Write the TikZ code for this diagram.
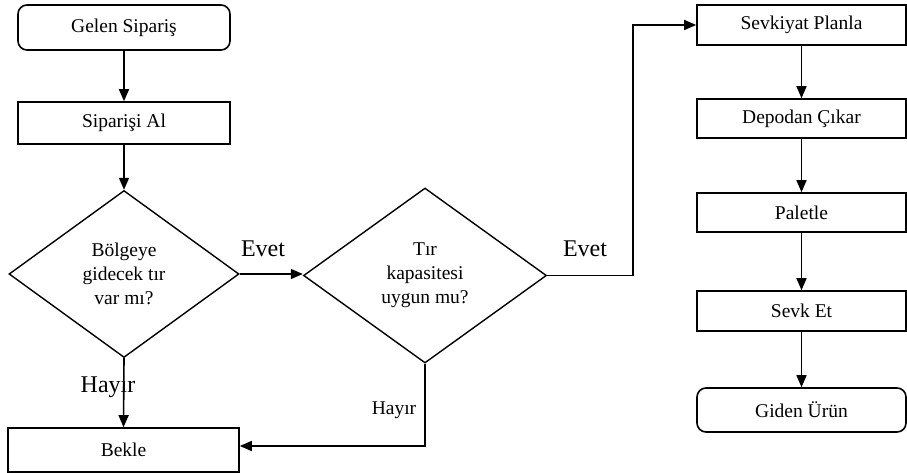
\documentclass[tikz,border=0pt]{standalone}
\usepackage{fontspec}
\setmainfont{Liberation Serif}
\usetikzlibrary{arrows.meta,shapes.geometric}
\newcommand{\fsmain}{\fontsize{19.5}{24}\selectfont}
\newcommand{\fsbig}{\fontsize{24}{28}\selectfont}
\begin{document}
\begin{tikzpicture}[x=1pt,y=-1pt,line width=1.6pt,
  >={Triangle[length=12pt,width=10pt]},
  box/.style={draw,rectangle,minimum width=212pt,minimum height=42pt,inner sep=0pt,font=\fsmain},
  rbox/.style={box,minimum width=209pt,minimum height=40pt},
  term/.style={box,rounded corners=9pt},
  dec/.style={draw,diamond,inner sep=0pt,align=center,font=\fsmain,line width=1.4pt},
  lbl/.style={inner sep=0pt,font=\fsbig},
  lbls/.style={inner sep=0pt,font=\fsmain}]
\useasboundingbox (0,0) rectangle (907,473);
% left column
\node[term,minimum height=45pt] (gelen) at (124,27.5) {Gelen Sipariş};
\node[box] (al) at (124,123) {Siparişi Al};
\node[dec,minimum width=230pt,minimum height=167pt] (d1) at (124,274) {Bölgeye\\gidecek tır\\var mı?};
\node[box,minimum width=231pt,minimum height=44pt] (bekle) at (123.5,450) {Bekle};
% middle
\node[dec,minimum width=243pt,minimum height=175pt] (d2) at (425,275.5) {Tır\\kapasitesi\\uygun mu?};
% right column
\node[rbox] (plan) at (801.5,25) {Sevkiyat Planla};
\node[rbox,minimum height=39pt] (depo) at (801.5,118.5) {Depodan Çıkar};
\node[rbox,minimum height=39pt] (palet) at (801.5,212.5) {Paletle};
\node[rbox] (sevk) at (801.5,311) {Sevk Et};
\node[term,minimum width=209pt,minimum height=44pt] (giden) at (801.5,410) {Giden Ürün};
% connectors
\draw[->] (gelen) -- (al);
\draw[->] (al) -- (d1);
\draw[->] (d1.south) -- (bekle.north);
\draw[->] (d1.east) -- (d1.east -| d2.west);
\coordinate (c1) at (633,275.5);
\draw[->] (d2.east) -- (c1) |- (plan.west);
\coordinate (c2) at (425,446);
\draw[->] (d2.south) -- (c2) -- (c2 -| bekle.east);
\draw[->] (plan) -- (depo);
\draw[->] (depo) -- (palet);
\draw[->] (palet) -- (sevk);
\draw[->] (sevk) -- (giden);
% labels
\node[lbl] (e1) at (263,249) {Evet};
\node[lbl] (e2) at (585,249) {Evet};
\node[lbl] (h1) at (108,387) {Hayır};
\node[lbls] (h2) at (394,410) {Hayır};
\end{tikzpicture}
\end{document}
